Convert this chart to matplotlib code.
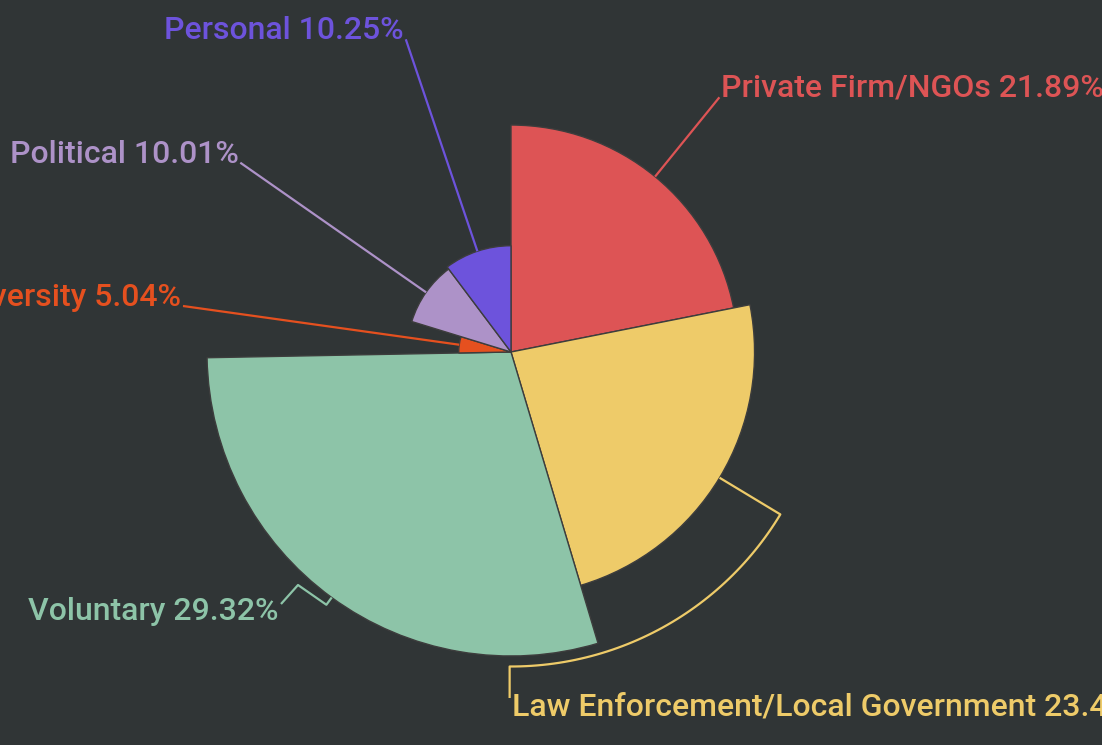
import numpy as np
import matplotlib
matplotlib.use('Agg')
import matplotlib.pyplot as plt
from matplotlib.patches import Wedge

names = ['Private Firm/NGOs', 'Law Enforcement/Local Government', 'Voluntary',
         'University', 'Political', 'Personal']
values = [21.89, 23.49, 29.32, 5.04, 10.01, 10.25]
colors = ['#dd5455', '#eecb69', '#8dc4a8', '#e5501f', '#ad92c8', '#6d53dc']

plt.rcParams['font.family'] = ['Roboto', 'DejaVu Sans']

W, H = 1102, 745
fig = plt.figure(figsize=(W / 100, H / 100), dpi=100, facecolor='#303536')
ax = fig.add_axes([0, 0, 1, 1])
ax.set_xlim(0, W)
ax.set_ylim(H, 0)  # pixel-like coords, y down
ax.axis('off')
ax.set_facecolor('#303536')

cx, cy = 511, 352
rmax = 304
total = sum(values)

# rose chart: angle and radius both follow the value
start = -90.0
mids = []
radii = []
for v, c in zip(values, colors):
    span = v / total * 360
    r = rmax * v / max(values)
    ax.add_patch(Wedge((cx, cy), r, start, start + span, facecolor=c,
                       edgecolor='#3d3d3d', lw=1.0))
    mids.append(np.deg2rad(start + span / 2))
    radii.append(r)
    start += span


def edge_pt(i, extra=0):
    a = mids[i]
    r = radii[i] + extra
    return cx + r * np.cos(a), cy + r * np.sin(a)


fs = 23
# label text anchors (layout)
labels = [
    (720.8, 96.7, 'left'),
    (511.5, 715, 'left'),
    (278.8, 620, 'right'),
    (181, 306.5, 'right'),
    (238.5, 163, 'right'),
    (404, 39.3, 'right'),
]
# extra leader-line points after the slice edge (layout)
bends = [
    [(719.4, 97.3)],
    None,
    [(298, 585), (281, 604)],
    [(183, 306)],
    [(240.3, 162.7)],
    [(405.8, 39.3)],
]

for i, (name, v, c) in enumerate(zip(names, values, colors)):
    x0, y0 = edge_pt(i)
    if i == 1:
        # radial out, then along an arc, then straight down to the label
        ra = 314.5
        a0 = mids[i]
        a1 = np.deg2rad(90.25)
        arc = np.linspace(a0, a1, 60)
        xs = [x0] + list(cx + ra * np.cos(arc)) + [cx + ra * np.cos(a1)]
        ys = [y0] + list(cy + ra * np.sin(arc)) + [698]
    elif i == 2:
        x1, y1 = edge_pt(i, 9)
        xs = [x0, x1] + [p[0] for p in bends[i]]
        ys = [y0, y1] + [p[1] for p in bends[i]]
    else:
        xs = [x0] + [p[0] for p in bends[i]]
        ys = [y0] + [p[1] for p in bends[i]]
    ax.plot(xs, ys, color=c, lw=1.6, solid_capstyle='butt')

    tx, ty, ha = labels[i]
    ax.text(tx, ty, f'{name} {v:.2f}%', color=c, fontsize=fs, ha=ha,
            va='baseline', fontweight='medium')

fig.savefig('out.png', dpi=100, facecolor=fig.get_facecolor())
